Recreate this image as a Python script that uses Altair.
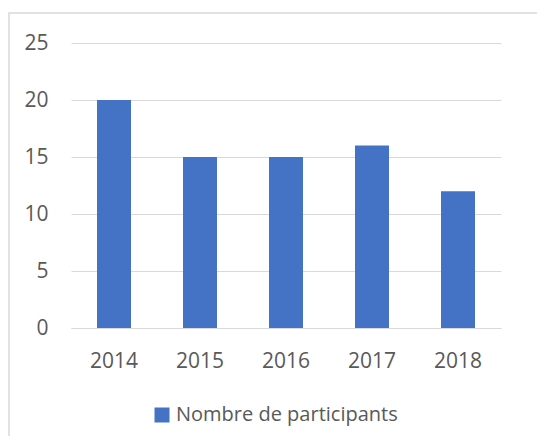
import altair as alt
import pandas as pd

years = ["2014", "2015", "2016", "2017", "2018"]
values = [20, 15, 15, 16, 12]
series = "Nombre de participants"

df = pd.DataFrame({"year": years, "value": values, "series": [series] * len(years)})
frame = pd.DataFrame({"k": [0]})

FONT = "Open Sans"
TXT = "#595959"
GRID = "#d9d9d9"
FS = 21

bars = alt.Chart(df).mark_bar(size=34).encode(
    x=alt.X("year:N", sort=years, title=None,
            scale=alt.Scale(paddingInner=0.6, paddingOuter=0.3),
            axis=alt.Axis(labelAngle=0, labelFontSize=FS, labelColor=TXT, labelFont=FONT,
                          ticks=False, domainColor=GRID, labelPadding=22)),
    y=alt.Y("value:Q", title=None,
            scale=alt.Scale(domain=[0, 25]),
            axis=alt.Axis(values=[0, 5, 10, 15, 20, 25], labelFontSize=FS, labelColor=TXT,
                          labelFont=FONT, ticks=False, domain=False, gridColor=GRID,
                          labelPadding=23)),
    color=alt.Color("series:N", scale=alt.Scale(range=["#4472C4"]), title=None,
                    legend=alt.Legend(orient="none", legendX=81, legendY=362,
                                      symbolType="square", symbolSize=225,
                                      symbolStrokeWidth=0, labelFontSize=20,
                                      labelColor=TXT, labelFont=FONT, padding=0,
                                      labelOffset=4, labelLimit=400)),
)

border = alt.Chart(frame).mark_rect(fill=None, stroke=GRID, strokeWidth=1.5, clip=False).encode(
    x=alt.value(-62), x2=alt.value(560), y=alt.value(-30), y2=alt.value(480)
)

chart = alt.layer(border, bars).properties(
    width=430, height=285,
    autosize=alt.AutoSizeParams(type="none"),
    padding={"left": 63, "top": 35, "right": 36, "bottom": 108},
).configure_view(stroke=None)

chart.save("out.html", embed_options={"renderer": "svg", "actions": False})
